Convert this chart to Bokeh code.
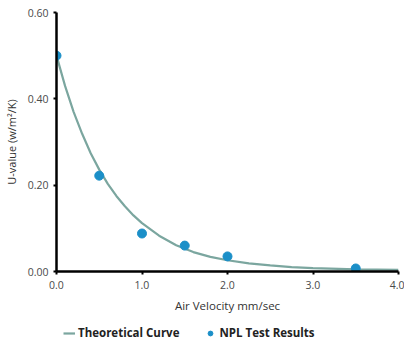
from bokeh.plotting import figure
from bokeh.layouts import column
from bokeh.models import Legend, LegendItem, FixedTicker, NumeralTickFormatter, Range1d
from bokeh.embed import file_html
from bokeh.resources import INLINE

# Theoretical curve
curve_x = [0.0, 0.1, 0.2, 0.3, 0.4, 0.5, 0.6, 0.7, 0.8, 0.9, 1.0, 1.2, 1.4, 1.6, 1.8, 2.0, 2.25, 2.5, 2.75, 3.0, 3.5, 4.0]
curve_y = [0.500, 0.430, 0.370, 0.319, 0.274, 0.236, 0.203, 0.175, 0.151, 0.130, 0.112, 0.083, 0.061, 0.045, 0.034, 0.026, 0.019, 0.014, 0.010, 0.008, 0.005, 0.004]

# NPL test results
test_x = [0.0, 0.5, 1.0, 1.5, 2.0, 3.5]
test_y = [0.500, 0.222, 0.088, 0.060, 0.035, 0.007]

y_ticks = [0.0, 0.2, 0.4, 0.6]
x_ticks = [0.0, 1.0, 2.0, 3.0, 4.0]

series_names = ["Theoretical Curve", "NPL Test Results"]

FONT = "Open Sans"
curve_color = "#7ba69f"
dot_color = "#1b8fc8"

p = figure(output_backend="svg", toolbar_location=None,
           x_range=Range1d(0, 4.0), y_range=Range1d(0, 0.6))
p.frame_width = 342
p.frame_height = 259
p.min_border_left = 52
p.min_border_right = 6
p.min_border_top = 12
p.min_border_bottom = 45
p.outline_line_color = None
p.xgrid.grid_line_color = None
p.ygrid.grid_line_color = None
p.background_fill_color = "white"
p.border_fill_color = "white"

p.line(curve_x, curve_y, line_color=curve_color, line_width=2.2)
p.scatter(test_x, test_y, size=9, fill_color=dot_color, line_color=dot_color)

for ax in (p.xaxis[0], p.yaxis[0]):
    ax.axis_line_color = "black"
    ax.axis_line_width = 2.5
    ax.major_tick_line_color = "black"
    ax.major_tick_line_width = 2
    ax.major_tick_out = 3
    ax.major_tick_in = 0
    ax.minor_tick_line_color = None
    ax.major_label_text_font = FONT
    ax.major_label_text_font_size = "10.5px"
    ax.major_label_text_color = "#4a4a4a"
    ax.axis_label_text_font = FONT
    ax.axis_label_text_font_size = "11.5px"
    ax.axis_label_text_font_style = "normal"
    ax.axis_label_text_color = "#333333"

p.xaxis[0].ticker = FixedTicker(ticks=x_ticks)
p.yaxis[0].ticker = FixedTicker(ticks=y_ticks)
p.xaxis[0].formatter = NumeralTickFormatter(format="0.0")
p.yaxis[0].formatter = NumeralTickFormatter(format="0.00")
p.xaxis[0].axis_label = "Air Velocity mm/sec"
p.yaxis[0].axis_label = "U-value (w/m²/K)"
p.xaxis[0].major_label_standoff = 6
p.xaxis[0].axis_label_standoff = 6
p.yaxis[0].axis_label_standoff = 6
p.yaxis[0].axis_label_text_font_size = "11px"

# Legend strip: same series drawn in a second figure whose ranges lie far away
# from the data, so only the legend swatches are visible.
lg = figure(width=400, height=25, output_backend="svg", toolbar_location=None,
            x_range=Range1d(100, 101), y_range=Range1d(100, 101),
            x_axis_type=None, y_axis_type=None, min_border=0)
lg.outline_line_color = None
lg.xgrid.grid_line_color = None
lg.ygrid.grid_line_color = None
lg_line = lg.line(curve_x, curve_y, line_color=curve_color, line_width=2.2)
lg_dot = lg.scatter(test_x, test_y, size=9, fill_color=dot_color, line_color=dot_color)

legend = Legend(items=[LegendItem(label=series_names[0], renderers=[lg_line]),
                       LegendItem(label=series_names[1], renderers=[lg_dot])],
                orientation="horizontal", location=(7, 1),
                label_text_font=FONT, label_text_font_size="11.5px",
                label_text_font_style="bold", label_text_color="#222222",
                border_line_color=None, background_fill_alpha=0,
                glyph_width=12, glyph_height=14, label_height=14,
                label_standoff=3, spacing=25, margin=0, padding=0)
lg.add_layout(legend)

layout = column(p, lg, spacing=0)
open("out.html", "w").write(file_html(layout, INLINE))
